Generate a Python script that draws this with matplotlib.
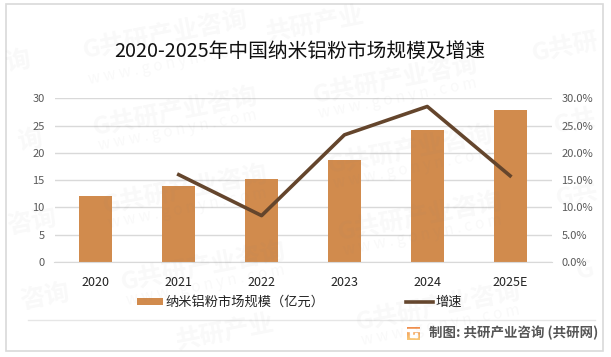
import numpy as np
import matplotlib
matplotlib.use("Agg")
import matplotlib.pyplot as plt
from matplotlib.patches import Rectangle

plt.rcParams['font.family'] = ['Noto Sans CJK SC', 'DejaVu Sans']

years = ['2020', '2021', '2022', '2023', '2024', '2025E']
market_size = [12.1, 13.9, 15.2, 18.7, 24.2, 27.8]
growth = [np.nan, 16.0, 8.5, 23.3, 28.5, 15.8]
left_ticks = [0, 5, 10, 15, 20, 25, 30]
right_ticks = [0, 5, 10, 15, 20, 25, 30]

W, H = 611, 357
fig = plt.figure(figsize=(W / 100, H / 100), dpi=100)


def px(x, y):
    return x / W, 1 - y / H


# outer border
fig.add_artist(Rectangle(px(6, 351), 597 / W, 347 / H, transform=fig.transFigure,
                         fill=False, edgecolor='#d9d9d9', linewidth=1.2))

# plot area
ax = fig.add_axes([54.5 / W, 1 - 262 / H, 497 / W, 163.7 / H])
x = np.arange(len(years))
ax.bar(x, market_size, width=0.4, color='#d18b4d', label='纳米铝粉市场规模（亿元）', zorder=2)
ax.set_xlim(-0.5, 5.5)
ax.set_ylim(0, 30)
ax.set_yticks(left_ticks)
ax.set_xticks(x)
ax.set_xticklabels(years, fontsize=9, color='#222222')
ax.tick_params(axis='x', length=0, pad=10)
ax.tick_params(axis='y', length=0, pad=7, labelsize=8, labelcolor='#595959')
ax.grid(axis='y', color='#d9d9d9', linewidth=1)
ax.set_axisbelow(True)
for s in ax.spines.values():
    s.set_visible(False)
ax.spines['bottom'].set_visible(True)
ax.spines['bottom'].set_color('#d9d9d9')

ax2 = ax.twinx()
ax2.plot(x, growth, color='#64452c', linewidth=2.6, label='增速', zorder=3)
ax2.set_ylim(0, 30)
ax2.set_yticks(right_ticks)
ax2.set_yticklabels([f'{t:.1f}%' for t in right_ticks])
ax2.tick_params(axis='y', length=0, pad=7, labelsize=8, labelcolor='#595959')
for s in ax2.spines.values():
    s.set_visible(False)

# title
fig.text(300 / W, 1 - 51 / H, '2020-2025年中国纳米铝粉市场规模及增速', fontsize=14.2,
         ha='center', va='center', color='#111111')

# legend
fig.add_artist(Rectangle(px(137, 305), 26 / W, 7 / H, transform=fig.transFigure,
                         facecolor='#d18b4d', edgecolor='none'))
fig.text(165 / W, 1 - 302 / H, '纳米铝粉市场规模（亿元）', fontsize=9.5, va='center', color='#222222')
fig.add_artist(plt.Line2D([406 / W, 433 / W], [1 - 301.5 / H] * 2, color='#64452c', linewidth=2.6))
fig.text(435 / W, 1 - 302 / H, '增速', fontsize=9.5, va='center', color='#222222')

# footer line and source
fig.add_artist(plt.Line2D([28 / W, 595 / W], [1 - 319.5 / H] * 2, color='#e6e6e6', linewidth=1))

# small gradient logo
logo = fig.add_axes([407 / W, 1 - 340 / H, 13 / W, 13 / H])
logo.imshow(np.linspace(0, 1, 32).reshape(-1, 1), cmap=matplotlib.colors.LinearSegmentedColormap.from_list(
    'logo', ['#f08a4b', '#f9c877']), aspect='auto', extent=(0, 13, 0, 13))
logo.axis('off')
logo.add_patch(Rectangle((0, 9.5), 13, 1.3, color='white'))
logo.add_patch(Rectangle((3, 3), 6.5, 2, color='white'))
logo.add_patch(Rectangle((7.5, 3), 2, 4.5, color='white'))
logo.add_patch(Rectangle((3, 5.5), 2, 4, color='white'))

fig.text(429 / W, 1 - 333 / H, '制图: 共研产业咨询 (共研网)', fontsize=9.7, fontweight='bold',
         va='center', color='#555555')

# watermarks, only the part that falls inside the picture
marks = [
    (165, 35, 'G共研产业咨询'), (175, 112, 'G共研产业咨询'), (185, 190, 'G共研产业咨询'),
    (203, 267, 'G共研产业咨询'), (225, 332, '共研产业'),
    (395, 80, 'G共研产业咨询'), (410, 150, 'G共研产业咨询'), (420, 217, 'G共研产业咨询'),
    (438, 307, 'G共研产业咨询'), (315, 24, '共研产业'),
    (18, 62, '询'), (30, 141, '询'), (32, 222, '咨询'), (45, 297, '咨询'),
    (565, 48, 'G共研'), (575, 122, 'G共'), (577, 195, 'G共'), (585, 270, 'G'),
]
for mx, my, word in marks:
    fig.text(mx / W, 1 - my / H, word, fontsize=18, fontweight='bold', color='#808080',
             alpha=0.05, rotation=11, ha='center', va='center', zorder=10)

tails = [
    (168, 64), (178, 130), (188, 208), (206, 285), (398, 98), (413, 168), (423, 235), (441, 325),
]
for mx, my in tails:
    fig.text(mx / W, 1 - my / H, 'w w w . g o n y n . c o m', fontsize=11, color='#808080',
             alpha=0.05, rotation=11, ha='center', va='center', zorder=10)

fig.savefig('out.png', dpi=100)
